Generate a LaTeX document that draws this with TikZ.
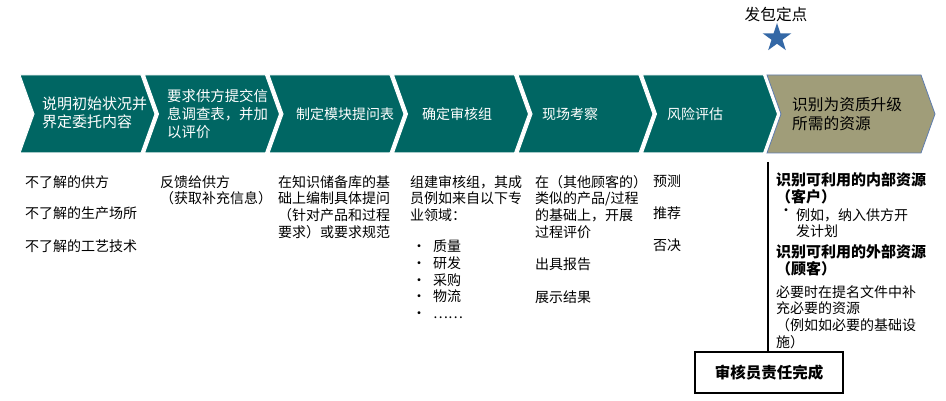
\documentclass[tikz,border=0pt]{standalone}
\usepackage{fontspec}
\setmainfont{Noto Sans CJK SC}
\usetikzlibrary{shapes.geometric}
\definecolor{chevteal}{RGB}{0,102,99}
\definecolor{chevolive}{RGB}{160,157,121}
\definecolor{chevedge}{RGB}{95,125,175}
\definecolor{starblue}{RGB}{52,104,166}

\begin{document}
\begin{tikzpicture}[x=1pt,y=-1pt]
      \useasboundingbox (0,0) rectangle (946,401);

      % process chevrons
      \foreach \x in {20,144.5,269,393.5,518,642.5}
        \filldraw[fill=chevteal, draw=white, line width=1pt]
          (\x,75) -- ++(121,0) -- ++(14,39) -- ++(-14,39) -- ++(-121,0) -- ++(14,-39) -- cycle;
      \filldraw[fill=chevolive, draw=chevedge, line width=.8pt]
        (767,75) -- (921,75) -- (935,114) -- (921,153) -- (767,153) -- (781,114) -- cycle;

      \begin{scope}[every node/.style={anchor=west, inner sep=0, align=left, text=white,
          font=\fontsize{14}{18}\selectfont}]
        \node[font=\fontsize{15}{18}\selectfont] (s1) at (42,113) {说明初始状况并\\界定委托内容};
        \node[font=\fontsize{14.4}{18}\selectfont] (s2) at (167,114) {要求供方提交信\\息调查表，并加\\以评价};
        \node (s3) at (296,114) {制定模块提问表};
        \node (s4) at (422,114) {确定审核组};
        \node (s5) at (542,114) {现场考察};
        \node (s6) at (667,114) {风险评估};
        \node[text=black, font=\fontsize{15.7}{19}\selectfont] (s7) at (792,114.5) {识别为资质升级\\所需的资源};
      \end{scope}

      % milestone
      \node[star, star points=5, star point ratio=2.6, fill=starblue, minimum size=30, inner sep=0] (star) at (777,38) {};
      \node[font=\fontsize{15.7}{18}\selectfont] (point) at (776,15) {发包定点};

      % details below each step
      \begin{scope}[every node/.style={anchor=north west, inner sep=0, align=left,
          font=\fontsize{14}{16.7}\selectfont}]
        \node (a1) at (25,175) {不了解的供方};
        \node (a2) at (25,206) {不了解的生产场所};
        \node (a3) at (25,239) {不了解的工艺技术};

        \node (b1) at (160,175) {反馈给供方\\（获取补充信息）};

        \node (c1) at (278,175) {在知识储备库的基\\础上编制具体提问\\（针对产品和过程\\要求）或要求规范};

        \node (d1) at (410,175) {组建审核组，其成\\员例如来自以下专\\业领域：};
        \node (d2) at (412,240) {\makebox[21pt][l]{•}质量\\\makebox[21pt][l]{•}研发\\\makebox[21pt][l]{•}采购\\
          \makebox[21pt][l]{•}物流\\\makebox[21pt][l]{•}……};

        \node (e1) at (535,175) {在（其他顾客的）\\类似的产品/过程\\的基础上，开展\\过程评价};
        \node (e2) at (535,258) {出具报告};
        \node (e3) at (535,291) {展示结果};

        \node (f1) at (653,175) {预测};
        \node (f2) at (653,207) {推荐};
        \node (f3) at (653,239) {否决};

        \node[font=\bfseries\fontsize{15}{17.5}\selectfont] (g1) at (776,172) {识别可利用的内部资源\\（客户）};
        \node (g2) at (779,208) {•};
        \node (g3) at (796,208) {例如，纳入供方开\\发计划};
        \node[font=\bfseries\fontsize{15}{17.5}\selectfont] (g4) at (776,244) {识别可利用的外部资源\\（顾客）};
        \node (g5) at (776,285) {必要时在提名文件中补\\充必要的资源\\（例如如必要的基础设\\施）};
      \end{scope}

      % auditor responsibility ends
      \node[draw, line width=1.3pt, minimum width=148, minimum height=41, inner sep=0,
        font=\bfseries\fontsize{15.5}{18}\selectfont] (done) at (769,372.5) {审核员责任完成};
      \coordinate (split) at (768,162);
      \draw[line width=1.2pt] (split) -- (split |- done.north);

\end{tikzpicture}
\end{document}
